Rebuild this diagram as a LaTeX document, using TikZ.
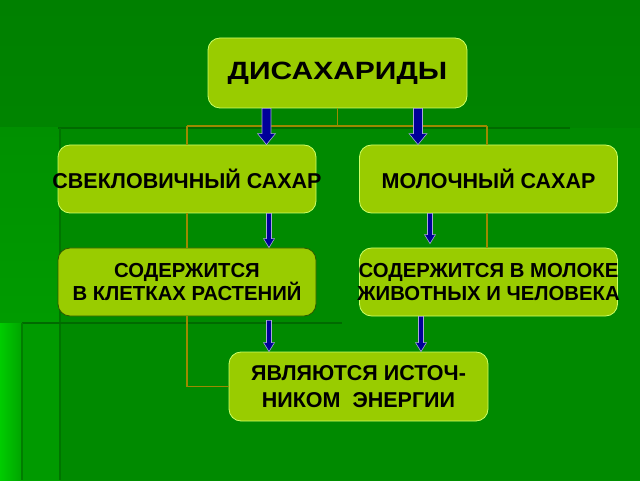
\documentclass[tikz,border=0pt]{standalone}
\usepackage{fontspec}
\setmainfont{Liberation Sans}
\usetikzlibrary{calc}
\definecolor{bgtop}{HTML}{008000}
\definecolor{bgmid}{HTML}{009000}
\definecolor{leftstrip}{HTML}{00A400}
\definecolor{leftbright}{HTML}{00CC00}
\definecolor{innerbg}{HTML}{008A00}
\definecolor{lowerbg}{HTML}{009A00}
\definecolor{darkline}{HTML}{006A00}
\definecolor{boxfill}{HTML}{99CC00}
\definecolor{boxedge}{HTML}{CCFF66}
\definecolor{darkedge}{HTML}{2E5A00}
\definecolor{orgcol}{HTML}{9C8A00}
\definecolor{navyarrow}{HTML}{000099}
\definecolor{arrowedge}{HTML}{A8A8D8}
\newcommand\blockarrow[5]{%
  \draw[barrow] let \p1=#1, \p2=#2 in
    ($(\x1,\y1)+(-#3,0)$) -- ($(\x1,\y2)+(-#3,#5)$) -- ($(\x1,\y2)+(-#4,#5)$) --
    (\x1,\y2) -- ($(\x1,\y2)+(#4,#5)$) -- ($(\x1,\y2)+(#3,#5)$) -- ($(\x1,\y1)+(#3,0)$) -- cycle;}
\newcommand\wide[1]{\makebox[230pt][c]{#1}}
\begin{document}
\begin{tikzpicture}[x=1pt,y=1pt,
  box/.style={draw=boxedge, line width=0.8pt, fill=boxfill, rounded corners=12pt,
    minimum width=258pt, minimum height=68pt, inner sep=0pt, align=center,
    font=\bfseries\fontsize{21.5}{24}\selectfont},
  dbox/.style={box, draw=darkedge},
  twoline/.style={font=\bfseries\fontsize{20.3}{23}\selectfont},
  orgline/.style={draw=orgcol, line width=1.4pt},
  barrow/.style={fill=navyarrow, draw=arrowedge, line width=0.6pt},
  darkrule/.style={draw=darkline, line width=1.6pt}]
\useasboundingbox (0,0) rectangle (640,480);
% background
\shade[top color=bgtop, bottom color=bgmid] (0,0) rectangle (640,480);
\shade[top color=bgmid, bottom color=leftstrip] (0,0) rectangle (60,352);
\fill[innerbg] (60,0) rectangle (640,352);
\draw[darkrule] (58,352) -- (570,352);
\draw[darkrule, draw=darkline!70!innerbg] (60,352) -- (60,0);
\shade[left color=leftbright, right color=leftstrip] (0,0) rectangle (22,157);
\fill[lowerbg] (22,0) rectangle (59.2,157);
\draw[darkrule] (22,157) -- (342,157);
\draw[darkrule, draw=darkline!60!lowerbg] (22,157) -- (22,0);
% nodes
\node[box, minimum width=259pt, minimum height=70pt] (top) at (337.5,407)
  {\scalebox{1.2}[1]{\fontsize{25}{28}\selectfont ДИСАХАРИДЫ}};
\coordinate (j) at (337.5,354);
\coordinate (jl) at (187,354);
\coordinate (jr) at (487,354);
\coordinate (bl) at (187,93.5);
\draw[orgline] (top.south) -- (j);
\draw[orgline] (jl) -- (jr);
\node[box] (b2) at (187,301) {\wide{СВЕКЛОВИЧНЫЙ САХАР}};
\node[box] (b3) at (488.5,301) {МОЛОЧНЫЙ САХАР};
\node[dbox, twoline] (b4) at (187,198) {СОДЕРЖИТСЯ\\ \wide{В КЛЕТКАХ РАСТЕНИЙ}};
\node[box, twoline] (b5) at (488.5,198) {\wide{СОДЕРЖИТСЯ В МОЛОКЕ}\\ \wide{ЖИВОТНЫХ И ЧЕЛОВЕКА}};
\node[box, minimum width=259pt, minimum height=69pt, font=\bfseries\fontsize{21.5}{27}\selectfont] (b6) at (358.5,93.5)
  {\raisebox{-3pt}{\parbox{250pt}{\centering ЯВЛЯЮТСЯ ИСТОЧ-\\ НИКОМ~~ЭНЕРГИИ}}};
% org chart lines between boxes
\draw[orgline] (jl) -- (b2.north -| jl);
\draw[orgline] (b2.south -| jl) -- (b4.north -| jl);
\draw[orgline] (b4.south -| jl) -- (bl) -- (b6.west);
\draw[orgline] (jr) -- (b3.north -| jr);
\draw[orgline] (b3.south -| jr) -- (b5.north -| jr);
% arrows
\blockarrow{(top.south -| 266.5,0)}{(b2.north -| 266.5,0)}{4.5pt}{9pt}{11pt}
\blockarrow{(top.south -| 418,0)}{(b3.north -| 418,0)}{4.5pt}{9pt}{11pt}
\blockarrow{(b2.south -| 269,0)}{(b4.north -| 269,0)}{2.5pt}{5.5pt}{9pt}
\blockarrow{(b3.south -| 430,0)}{($(b5.north -| 430,0)+(0,4)$)}{2.5pt}{5.5pt}{9pt}
\blockarrow{($(b4.south -| 269,0)+(0,-4)$)}{(b6.north -| 269,0)}{2.5pt}{5.5pt}{9pt}
\blockarrow{(b5.south -| 421,0)}{(b6.north -| 421,0)}{2.5pt}{5.5pt}{9pt}
\end{tikzpicture}
\end{document}
